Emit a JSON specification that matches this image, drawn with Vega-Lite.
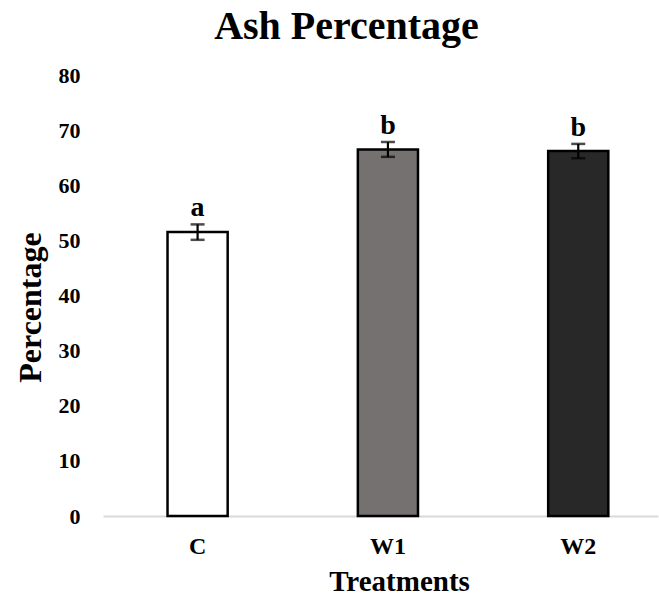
{
  "$schema": "https://vega.github.io/schema/vega-lite/v6.json",
  "autosize": "none",
  "padding": {"left": 103, "top": 75, "right": 1, "bottom": 80},
  "width": 555,
  "height": 441,
  "background": "white",
  "title": {
    "text": "Ash Percentage",
    "font": "Liberation Serif",
    "fontSize": 40,
    "fontWeight": "bold",
    "color": "black",
    "anchor": "middle",
    "dx": -34,
    "dy": 42,
    "baseline": "alphabetic",
    "offset": 27
  },
  "data": {
    "values": [
      {"treatment": "C", "mean": 51.5, "lower": 50.1, "upper": 52.9, "letter": "a"},
      {"treatment": "W1", "mean": 66.5, "lower": 65.15, "upper": 67.85, "letter": "b"},
      {"treatment": "W2", "mean": 66.2, "lower": 64.9, "upper": 67.5, "letter": "b"}
    ]
  },
  "config": {
    "view": {"stroke": null},
    "axis": {"grid": false}
  },
  "encoding": {
    "x": {
      "field": "treatment",
      "type": "nominal",
      "sort": ["C", "W1", "W2"],
      "scale": {"paddingInner": 0.684, "paddingOuter": 0.3, "align": 0.565},
      "axis": {
        "title": "Treatments",
        "labelAngle": 0,
        "labelFont": "Liberation Serif",
        "labelFontSize": 24,
        "labelFontWeight": "bold",
        "labelColor": "black",
        "labelBaseline": "alphabetic",
        "labelPadding": 37,
        "ticks": false,
        "tickSize": 0,
        "domainColor": "#d9d9d9",
        "domainWidth": 2,
        "titleFont": "Liberation Serif",
        "titleFontSize": 29,
        "titleFontWeight": "bold",
        "titleColor": "black",
        "titleX": 296,
        "titleY": 74,
        "titleAlign": "center",
        "titleBaseline": "alphabetic"
      }
    }
  },
  "layer": [
    {
      "mark": {"type": "bar", "stroke": "black", "strokeWidth": 2.5},
      "encoding": {
        "y": {
          "field": "mean",
          "type": "quantitative",
          "scale": {"domain": [0, 80], "nice": false},
          "axis": {
            "title": "Percentage",
            "values": [0, 10, 20, 30, 40, 50, 60, 70, 80],
            "domain": false,
            "ticks": false,
            "tickSize": 0,
            "labelPadding": 23,
            "labelFont": "Liberation Serif",
            "labelFontSize": 22,
            "labelFontWeight": "bold",
            "labelColor": "black",
            "titleFont": "Liberation Serif",
            "titleFontSize": 32,
            "titleFontWeight": "bold",
            "titleColor": "black",
            "titleAngle": -90,
            "titleX": -73,
            "titleY": 232,
            "titleAlign": "center",
            "titleBaseline": "middle"
          }
        },
        "fill": {
          "field": "treatment",
          "type": "nominal",
          "scale": {"domain": ["C", "W1", "W2"], "range": ["#ffffff", "#767171", "#282828"]},
          "legend": null
        }
      }
    },
    {
      "mark": {"type": "rule", "color": "black", "strokeWidth": 2.2},
      "encoding": {
        "y": {"field": "lower", "type": "quantitative"},
        "y2": {"field": "upper"}
      }
    },
    {
      "mark": {"type": "tick", "color": "black", "thickness": 2.5, "size": 14},
      "encoding": {
        "y": {"field": "lower", "type": "quantitative"}
      }
    },
    {
      "mark": {"type": "tick", "color": "black", "thickness": 2.5, "size": 14},
      "encoding": {
        "y": {"field": "upper", "type": "quantitative"}
      }
    },
    {
      "mark": {
        "type": "text",
        "font": "Liberation Serif",
        "fontSize": 28,
        "fontWeight": "bold",
        "color": "black",
        "baseline": "alphabetic",
        "dy": -8
      },
      "encoding": {
        "y": {"field": "upper", "type": "quantitative"},
        "text": {"field": "letter"}
      }
    }
  ]
}
